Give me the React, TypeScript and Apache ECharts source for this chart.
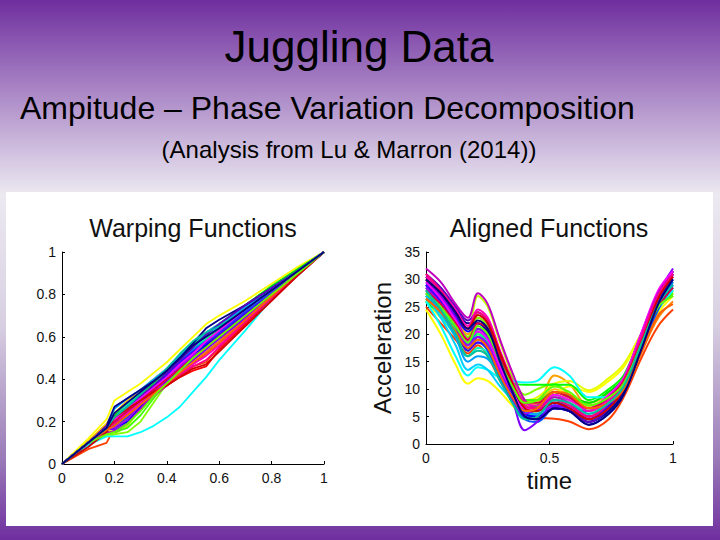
import React, { useEffect, useRef } from "react";
import * as echarts from "echarts";

// ---- Texts ----
const slideTitle = "Juggling Data";
const slideSubtitle = "Ampitude – Phase Variation Decomposition";
const slideNote = "(Analysis from Lu & Marron (2014))";

const warpTitle = "Warping Functions";
const alignTitle = "Aligned Functions";
const alignYName = "Acceleration";
const alignXName = "time";

// ---- Warping functions: common grid + curves ----
const warpT = [0, 0.1, 0.17, 0.2, 0.25, 0.3, 0.35, 0.4, 0.45, 0.5, 0.55, 0.6, 0.7, 0.8, 0.9, 1];
const warpCurves = [
  [0, 0.09, 0.16, 0.2, 0.25, 0.29, 0.33, 0.37, 0.41, 0.44, 0.46, 0.54, 0.66, 0.78, 0.89, 1],
  [0, 0.07, 0.1, 0.17, 0.22, 0.27, 0.32, 0.37, 0.42, 0.46, 0.48, 0.55, 0.67, 0.79, 0.9, 1],
  [0, 0.1, 0.17, 0.19, 0.24, 0.29, 0.34, 0.39, 0.44, 0.49, 0.53, 0.58, 0.69, 0.8, 0.9, 1],
  [0, 0.1, 0.15, 0.17, 0.22, 0.28, 0.34, 0.4, 0.45, 0.5, 0.55, 0.6, 0.7, 0.8, 0.9, 1],
  [0, 0.11, 0.19, 0.24, 0.3, 0.35, 0.4, 0.45, 0.51, 0.57, 0.62, 0.66, 0.74, 0.83, 0.92, 1],
  [0, 0.12, 0.21, 0.3, 0.34, 0.38, 0.43, 0.48, 0.54, 0.6, 0.66, 0.7, 0.77, 0.85, 0.93, 1],
  [0, 0.1, 0.15, 0.16, 0.2, 0.27, 0.34, 0.41, 0.47, 0.53, 0.58, 0.63, 0.73, 0.83, 0.92, 1],
  [0, 0.1, 0.13, 0.14, 0.18, 0.26, 0.34, 0.41, 0.47, 0.53, 0.58, 0.63, 0.72, 0.81, 0.91, 1],
  [0, 0.1, 0.14, 0.14, 0.15, 0.2, 0.29, 0.38, 0.45, 0.52, 0.57, 0.62, 0.71, 0.8, 0.9, 1],
  [0, 0.1, 0.15, 0.15, 0.17, 0.23, 0.31, 0.39, 0.46, 0.52, 0.57, 0.62, 0.72, 0.81, 0.9, 1],
  [0, 0.1, 0.16, 0.2, 0.26, 0.31, 0.36, 0.42, 0.48, 0.54, 0.59, 0.64, 0.73, 0.82, 0.91, 1],
  [0, 0.1, 0.17, 0.23, 0.28, 0.33, 0.38, 0.44, 0.5, 0.56, 0.61, 0.66, 0.75, 0.84, 0.92, 1],
  [0, 0.1, 0.17, 0.21, 0.26, 0.31, 0.37, 0.43, 0.49, 0.55, 0.59, 0.63, 0.72, 0.81, 0.9, 1],
  [0, 0.1, 0.17, 0.22, 0.28, 0.34, 0.39, 0.45, 0.51, 0.57, 0.62, 0.66, 0.74, 0.83, 0.91, 1],
  [0, 0.09, 0.13, 0.13, 0.13, 0.15, 0.18, 0.22, 0.27, 0.34, 0.41, 0.49, 0.63, 0.78, 0.89, 1],
  [0, 0.1, 0.17, 0.2, 0.25, 0.31, 0.37, 0.43, 0.49, 0.55, 0.6, 0.65, 0.74, 0.83, 0.91, 1],
  [0, 0.1, 0.17, 0.26, 0.31, 0.35, 0.4, 0.45, 0.51, 0.57, 0.62, 0.66, 0.74, 0.83, 0.91, 1],
  [0, 0.1, 0.16, 0.19, 0.24, 0.3, 0.36, 0.42, 0.48, 0.54, 0.58, 0.62, 0.72, 0.81, 0.9, 1],
  [0, 0.1, 0.17, 0.18, 0.22, 0.28, 0.35, 0.41, 0.46, 0.51, 0.56, 0.61, 0.71, 0.8, 0.9, 1],
  [0, 0.1, 0.17, 0.17, 0.2, 0.27, 0.34, 0.4, 0.46, 0.51, 0.56, 0.61, 0.7, 0.8, 0.9, 1],
  [0, 0.1, 0.18, 0.27, 0.31, 0.35, 0.39, 0.44, 0.5, 0.57, 0.64, 0.68, 0.75, 0.83, 0.91, 1],
  [0, 0.1, 0.17, 0.21, 0.26, 0.31, 0.36, 0.41, 0.47, 0.53, 0.58, 0.62, 0.72, 0.81, 0.9, 1],
  [0, 0.1, 0.17, 0.2, 0.25, 0.3, 0.36, 0.42, 0.48, 0.53, 0.57, 0.61, 0.71, 0.8, 0.9, 1],
  [0, 0.1, 0.17, 0.16, 0.19, 0.26, 0.33, 0.39, 0.44, 0.49, 0.54, 0.59, 0.69, 0.79, 0.9, 1],
  [0, 0.1, 0.17, 0.17, 0.21, 0.28, 0.34, 0.4, 0.46, 0.51, 0.55, 0.6, 0.7, 0.8, 0.9, 1],
  [0, 0.1, 0.18, 0.22, 0.27, 0.32, 0.37, 0.43, 0.49, 0.55, 0.61, 0.66, 0.75, 0.83, 0.91, 1],
  [0, 0.1, 0.17, 0.21, 0.26, 0.31, 0.36, 0.41, 0.47, 0.52, 0.58, 0.63, 0.73, 0.82, 0.91, 1],
  [0, 0.1, 0.15, 0.15, 0.19, 0.26, 0.32, 0.37, 0.42, 0.47, 0.52, 0.57, 0.68, 0.79, 0.9, 1],
  [0, 0.1, 0.17, 0.2, 0.24, 0.29, 0.34, 0.38, 0.43, 0.47, 0.51, 0.56, 0.68, 0.79, 0.9, 1],
  [0, 0.1, 0.17, 0.19, 0.23, 0.28, 0.33, 0.37, 0.42, 0.46, 0.49, 0.55, 0.67, 0.78, 0.89, 1],
  [0, 0.1, 0.17, 0.2, 0.25, 0.3, 0.35, 0.4, 0.45, 0.5, 0.55, 0.6, 0.7, 0.8, 0.9, 1],
  [0, 0.08, 0.15, 0.22, 0.26, 0.3, 0.34, 0.37, 0.41, 0.45, 0.47, 0.53, 0.65, 0.77, 0.89, 1],
  [0, 0.1, 0.16, 0.18, 0.23, 0.28, 0.33, 0.38, 0.43, 0.48, 0.52, 0.57, 0.68, 0.79, 0.9, 1],
  [0, 0.1, 0.14, 0.15, 0.19, 0.25, 0.32, 0.38, 0.44, 0.5, 0.55, 0.6, 0.7, 0.8, 0.9, 1],
  [0, 0.1, 0.17, 0.22, 0.27, 0.33, 0.39, 0.45, 0.52, 0.58, 0.62, 0.65, 0.73, 0.82, 0.91, 1],
  [0, 0.1, 0.17, 0.24, 0.29, 0.34, 0.39, 0.44, 0.5, 0.56, 0.6, 0.64, 0.73, 0.82, 0.91, 1],
];

// ---- Aligned functions: common time grid + curves ----
const timeT = [0, 0.06, 0.12, 0.17, 0.21, 0.25, 0.3, 0.35, 0.4, 0.45, 0.52, 0.58, 0.66, 0.74, 0.8, 0.87, 0.94, 1];
const accelCurves = [
  [29, 26.5, 23, 19.5, 21, 19, 13, 8.5, 5.5, 6, 8, 7, 4.5, 6.5, 9.5, 17.5, 26, 31],
  [25, 22, 19, 16.5, 18, 16, 11.5, 8, 5.5, 4.8, 4.6, 4.1, 2.7, 4.5, 8.5, 15.5, 21.5, 24.5],
  [27, 24.5, 21, 18, 20, 18.5, 13.5, 9.5, 7, 7, 9, 8, 6, 7.5, 9.5, 16.5, 23, 26],
  [28.5, 26, 22.5, 20, 23, 21.5, 16, 11, 7.5, 7.5, 12.5, 11, 7, 8, 10.5, 17.5, 25, 28],
  [27.5, 25, 21.5, 18.5, 21, 19.5, 14.5, 10, 7, 7.5, 10, 9, 7.5, 9, 11.5, 18, 24.5, 27.5],
  [24.5, 20, 14.5, 11, 12, 11.5, 9.5, 7, 5, 6, 9, 10.5, 9.5, 11.5, 14, 19.5, 24, 27],
  [26, 23, 20, 17, 20, 19, 15, 11, 8, 8.5, 11, 11.5, 9.8, 12, 14.5, 20, 25, 27.5],
  [30, 27, 23.5, 21, 27, 25, 18.5, 12.5, 8, 7.5, 9.5, 8.5, 6.5, 8.5, 11.5, 19, 26, 29.5],
  [27.5, 25, 22, 19.5, 23, 21.5, 16.5, 12, 9, 10, 11, 9, 7, 8.5, 11.5, 18.5, 25, 27],
  [26.5, 24, 21, 18.5, 21, 19.5, 15, 11, 8, 8, 9.5, 8.5, 7.5, 9.5, 12, 19, 25, 27.5],
  [26, 23.5, 20.5, 18, 20.5, 19, 14.5, 11, 10.8, 10.8, 10.8, 10.8, 8, 10, 12.5, 19.5, 25.5, 28],
  [27, 24, 20.5, 17, 19.5, 18, 13, 9, 6.5, 7, 9.5, 8.8, 7.5, 9.5, 12, 19, 25.5, 27],
  [28, 25, 21, 18, 20, 18.5, 14, 10, 7, 6.5, 8.5, 8, 6.5, 8.5, 11.5, 18.5, 25.5, 28.5],
  [26.5, 23.5, 19.5, 16, 17.5, 16.5, 12, 8.5, 6, 6, 8, 7.5, 6, 8, 11, 18, 25, 28],
  [26, 21.5, 16, 12.5, 14, 13.5, 12, 11.5, 11.2, 11.5, 14, 12.5, 8.5, 8.5, 11, 18, 24.5, 28],
  [27, 23, 18, 13.5, 14.5, 13.5, 10.5, 8, 5.5, 5.5, 7.5, 7, 5.5, 7.5, 10.5, 17.5, 25, 28.5],
  [27.5, 24, 19.5, 15, 16, 15.5, 12.5, 9, 6, 5.5, 7.5, 7, 5, 7, 10.5, 18, 25, 28.5],
  [29, 26, 22, 18.5, 20.5, 19, 13.5, 8.5, 5, 5, 7, 6.5, 4.5, 6.5, 9.5, 17.5, 25, 29.5],
  [28.5, 25.5, 21.5, 17.5, 18.5, 17, 12, 7.5, 4.5, 4, 6.5, 6, 4, 6, 9.5, 17, 24.5, 29],
  [29.5, 27, 23.5, 20.5, 22, 20, 14, 9, 5.5, 5, 6.5, 6, 3.5, 5.5, 9, 17.5, 25.5, 31],
  [30.5, 28, 24.5, 22, 22, 20.5, 15.5, 10.5, 6.5, 6.5, 7.5, 6.5, 4, 6, 9.5, 18, 26, 31.5],
  [29, 26, 22, 18.5, 19.5, 18, 13, 8.5, 5, 4.5, 7, 6.5, 4.5, 6.5, 10, 18, 26, 30],
  [29, 26, 21.5, 17, 18.5, 17.5, 13, 8.5, 5, 4.5, 7, 6.5, 4.5, 7, 10.5, 18.5, 26.5, 30.5],
  [30, 27, 23, 19, 21, 19.5, 13.5, 8, 2.5, 4, 7, 6.5, 5, 7.5, 11, 19.5, 27.5, 32],
  [28.5, 25.5, 21.5, 18, 19.5, 18, 13, 8.5, 5.5, 6.3, 6.5, 6.3, 6, 8.5, 12, 20, 27.5, 31],
  [31, 28.5, 25, 22.5, 24, 22, 16, 10, 5, 4.5, 6.5, 6, 4, 6.5, 10.5, 18.5, 26.5, 31.5],
  [29.5, 26.5, 22.5, 19, 20.5, 19, 14, 9.5, 6.5, 6.5, 9, 8, 6.5, 9, 12, 20, 28, 31.5],
  [32, 29.5, 25.5, 23, 27.5, 25.5, 19, 13, 8, 6.5, 8.5, 7.5, 5, 7.5, 11.5, 19.5, 27.5, 31],
  [30.5, 28, 24.5, 21.5, 24.5, 23, 17, 11.5, 7.5, 7, 9.5, 8.5, 6, 8, 11.5, 19.5, 27, 30.5],
  [31, 28, 24, 21, 24, 22.5, 16.5, 11, 7, 6.5, 8, 7, 5, 7.5, 11, 19, 27, 31],
  [28, 25.5, 22, 19, 22, 21, 16, 11, 7.5, 7.5, 9.5, 8.5, 6.5, 8.5, 11.5, 18.5, 25, 28.5],
  [30, 27.5, 24, 21, 23.5, 22, 16.5, 11, 6.5, 6, 7.5, 6.5, 4.5, 6.5, 10, 18, 26.5, 30.5],
  [26.5, 24, 20.5, 17.5, 19, 17.5, 12.5, 8.5, 6, 6.5, 9.5, 9, 6.5, 7.5, 10, 16.5, 23.5, 25.5],
  [27.5, 25, 21.5, 18.5, 21.5, 20, 15, 10.5, 7.5, 8, 10.5, 9.5, 7, 8.5, 11, 18, 25, 27],
  [28, 24.5, 20, 16, 17, 16, 11.5, 7.5, 4.5, 5, 8, 7.5, 5.5, 7.5, 10.5, 18, 25.5, 29],
  [30, 27.5, 24, 21, 22.5, 21, 15, 9.5, 5, 4.5, 6.5, 6, 3.5, 5.5, 9, 17, 25.5, 30],
];

const curveColors = [
  "#ff0000", "#ff4000", "#ff8000", "#ffa000", "#ffc000", "#ffff00", "#e6ff00", "#bfff00",
  "#80ff00", "#40ff00", "#00ff00", "#00e000", "#00ff80", "#00ffbf", "#00ffff", "#00d0ff",
  "#00a0ff", "#0080ff", "#0050ff", "#0000ff", "#00008b", "#2040ff", "#4000ff", "#8000ff",
  "#a000ff", "#6000c0", "#ff00ff", "#c000c0", "#ff00bf", "#ff0080", "#e00040", "#d00000",
  "#ff6000", "#60ff00", "#00c0a0", "#000080",
];

const FONT = "'Liberation Sans', Arial, sans-serif";

export default function App() {
  const ref = useRef<HTMLDivElement>(null);

  useEffect(() => {
    if (!ref.current) return;
    const chart = echarts.init(ref.current, undefined, { renderer: "svg" });

    const axisCommon = {
      type: "value" as const,
      splitLine: { show: false },
      axisLine: { show: true, lineStyle: { color: "#000", width: 1 } },
      axisTick: { show: true, inside: true, length: 3, lineStyle: { color: "#000" } },
      axisLabel: { color: "#111", fontSize: 14, fontFamily: FONT },
    };

    const warpSeries = warpCurves.map((c, i) => ({
      type: "line" as const,
      xAxisIndex: 0,
      yAxisIndex: 0,
      data: c.map((v, j) => [warpT[j], v]),
      showSymbol: false,
      symbol: "none",
      lineStyle: { width: 1.8, color: curveColors[i % curveColors.length] },
      silent: true,
      z: 2,
    }));

    const alignSeries = accelCurves.map((c, i) => ({
      type: "line" as const,
      xAxisIndex: 1,
      yAxisIndex: 1,
      data: c.map((v, j) => [timeT[j], v]),
      showSymbol: false,
      symbol: "none",
      smooth: 0.35,
      lineStyle: { width: 2, color: curveColors[i % curveColors.length] },
      silent: true,
      z: 2,
    }));

    chart.setOption({
      animation: false,
      backgroundColor: "transparent",
      textStyle: { fontFamily: FONT },
      title: [
        {
          text: warpTitle,
          left: 193,
          top: 215,
          textAlign: "center",
          padding: 0,
          textStyle: { fontSize: 25, fontWeight: "normal", color: "#111", fontFamily: FONT },
        },
        {
          text: alignTitle,
          left: 549,
          top: 215,
          textAlign: "center",
          padding: 0,
          textStyle: { fontSize: 25, fontWeight: "normal", color: "#111", fontFamily: FONT },
        },
      ],
      graphic: [
        {
          type: "rect",
          shape: { x: 0, y: 0, width: 720, height: 540 },
          style: {
            fill: new echarts.graphic.LinearGradient(0, 0, 0, 1, [
              { offset: 0, color: "#6f2f9f" },
              { offset: 0.36, color: "#ece9f1" },
              { offset: 0.6, color: "#d8d0e2" },
              { offset: 0.85, color: "#9a7ab8" },
              { offset: 1, color: "#6f2f9f" },
            ]),
          },
          z: -10,
          silent: true,
        },
        {
          type: "rect",
          shape: { x: 6, y: 192, width: 707, height: 334 },
          style: { fill: "#ffffff" },
          z: -9,
          silent: true,
        },
        {
          type: "text",
          x: 359,
          y: 46,
          style: {
            text: slideTitle,
            fontSize: 44,
            fontFamily: FONT,
            fill: "#000",
            align: "center",
            verticalAlign: "middle",
          },
          z: 5,
        },
        {
          type: "text",
          x: 20,
          y: 108,
          style: {
            text: slideSubtitle,
            fontSize: 32,
            fontFamily: FONT,
            fill: "#000",
            align: "left",
            verticalAlign: "middle",
          },
          z: 5,
        },
        {
          type: "text",
          x: 349,
          y: 149,
          style: {
            text: slideNote,
            fontSize: 24,
            fontFamily: FONT,
            fill: "#000",
            align: "center",
            verticalAlign: "middle",
          },
          z: 5,
        },
      ],
      grid: [
        { left: 62, top: 252, width: 262, height: 212, containLabel: false },
        { left: 426, top: 252, width: 247, height: 192, containLabel: false },
      ],
      xAxis: [
        { ...axisCommon, gridIndex: 0, min: 0, max: 1, interval: 0.2, axisLabel: { ...axisCommon.axisLabel, margin: 7 } },
        {
          ...axisCommon,
          gridIndex: 1,
          min: 0,
          max: 1,
          interval: 0.5,
          axisLabel: { ...axisCommon.axisLabel, margin: 7 },
          name: alignXName,
          nameLocation: "middle",
          nameGap: 24,
          nameTextStyle: { fontSize: 24, color: "#111", fontFamily: FONT },
        },
      ],
      yAxis: [
        { ...axisCommon, gridIndex: 0, min: 0, max: 1, interval: 0.2, axisLabel: { ...axisCommon.axisLabel, margin: 6 } },
        {
          ...axisCommon,
          gridIndex: 1,
          min: 0,
          max: 35,
          interval: 5,
          axisLabel: { ...axisCommon.axisLabel, margin: 6 },
          name: alignYName,
          nameLocation: "middle",
          nameGap: 32,
          nameTextStyle: { fontSize: 24, color: "#111", fontFamily: FONT },
        },
      ],
      series: [...warpSeries, ...alignSeries],
    });

    return () => chart.dispose();
  }, []);

  return (
    <div
      ref={ref}
      style={{ position: "absolute", left: 0, top: 0, width: 720, height: 540 }}
    />
  );
}
